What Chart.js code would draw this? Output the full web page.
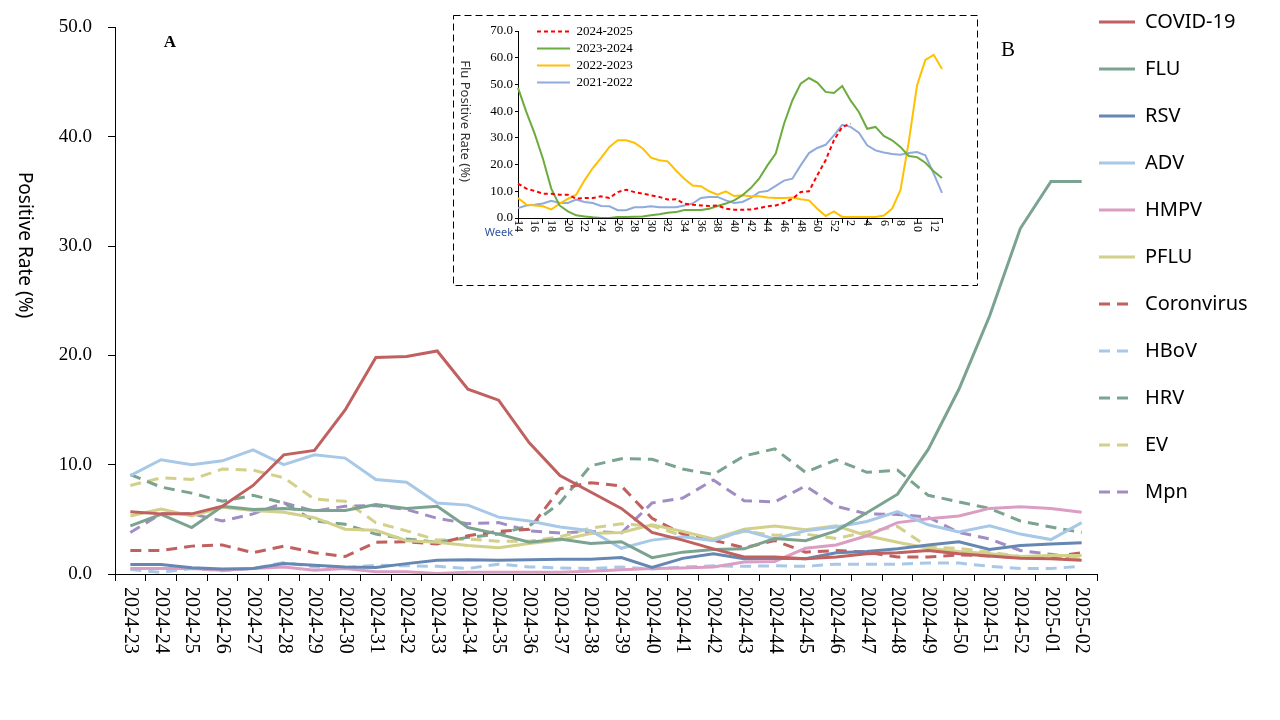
<!DOCTYPE html>
<html>
<head>
<meta charset="utf-8">
<title>Positive rate of respiratory pathogens</title>
<script src="https://cdn.jsdelivr.net/npm/chart.js@4.4.1/dist/chart.umd.min.js"></script>
<style>
  html, body { margin: 0; padding: 0; background: #fff; }
  #wrap { position: relative; width: 1280px; height: 720px; overflow: hidden; }
  #main { position: absolute; left: 0; top: 0; }
  #inset { position: absolute; left: 453px; top: 15px; }
</style>
</head>
<body>
<div id="wrap">
  <canvas id="main" width="1280" height="720"></canvas>
  <canvas id="inset" width="525" height="271"></canvas>
</div>
<script>
/* main chart: weekly positive rate by pathogen */
var weekLabels = ["2024-23", "2024-24", "2024-25", "2024-26", "2024-27", "2024-28", "2024-29", "2024-30",
                  "2024-31", "2024-32", "2024-33", "2024-34", "2024-35", "2024-36", "2024-37", "2024-38",
                  "2024-39", "2024-40", "2024-41", "2024-42", "2024-43", "2024-44", "2024-45", "2024-46",
                  "2024-47", "2024-48", "2024-49", "2024-50", "2024-51", "2024-52", "2025-01", "2025-02"];

var covid19 = [5.7, 5.5, 5.5, 6.2, 8.1, 10.9, 11.3, 15.0, 19.8, 19.9, 20.4, 16.9, 15.9, 12.0, 9.0, 7.5,
               6.0, 3.8, 3.1, 2.3, 1.55, 1.55, 1.4, 1.55, 1.85, 1.95, 2.15, 1.85, 1.65, 1.45, 1.4, 1.25];
var flu = [4.4, 5.45, 4.25, 6.2, 5.9, 6.0, 5.8, 5.8, 6.35, 6.0, 6.2, 4.25, 3.65, 2.9, 3.2, 2.8,
           2.95, 1.5, 2.0, 2.25, 2.3, 3.25, 3.05, 3.95, 5.6, 7.3, 11.4, 16.9, 23.6, 31.6, 35.9, 35.9];
var rsv = [0.87, 0.87, 0.57, 0.45, 0.5, 0.95, 0.8, 0.65, 0.6, 0.95, 1.25, 1.3, 1.25, 1.3, 1.35, 1.35,
           1.5, 0.6, 1.43, 1.85, 1.4, 1.45, 1.4, 1.95, 2.05, 2.3, 2.65, 2.95, 2.25, 2.6, 2.75, 2.85];
var adv = [9.0, 10.45, 10.0, 10.35, 11.35, 10.0, 10.9, 10.6, 8.65, 8.4, 6.5, 6.3, 5.2, 4.85, 4.3, 3.95,
           2.35, 3.1, 3.4, 3.05, 4.0, 3.2, 3.95, 4.3, 4.8, 5.7, 4.5, 3.85, 4.4, 3.65, 3.15, 4.7];
var hmpv = [0.5, 0.5, 0.5, 0.35, 0.5, 0.65, 0.35, 0.5, 0.2, 0.2, 0.05, 0.15, 0.15, 0.15, 0.15, 0.25,
            0.4, 0.5, 0.55, 0.65, 1.1, 1.15, 2.35, 2.65, 3.5, 4.7, 5.05, 5.3, 6.0, 6.15, 6.0, 5.65];
var pflu = [5.3, 5.95, 5.3, 6.1, 5.8, 5.65, 5.15, 4.1, 4.0, 3.05, 2.9, 2.6, 2.4, 2.8, 3.1, 3.7,
            3.8, 4.5, 3.9, 3.2, 4.1, 4.4, 4.05, 4.4, 3.5, 2.9, 2.35, 2.05, 1.85, 1.6, 1.7, 1.7];
var coronavirus = [2.15, 2.15, 2.55, 2.65, 1.95, 2.55, 1.95, 1.6, 2.9, 2.95, 2.75, 3.5, 3.9, 4.1, 7.8, 8.35,
                   8.05, 5.1, 3.65, 3.1, 2.4, 3.05, 2.0, 2.15, 2.0, 1.55, 1.55, 1.75, 1.65, 1.5, 1.55, 1.95];
var hbov = [0.4, 0.15, 0.5, 0.3, 0.5, 1.05, 0.65, 0.6, 0.8, 0.75, 0.7, 0.5, 0.9, 0.65, 0.55, 0.5,
            0.65, 0.45, 0.65, 0.75, 0.7, 0.75, 0.7, 0.9, 0.9, 0.9, 1.0, 1.0, 0.7, 0.5, 0.5, 0.7];
var hrv = [9.1, 7.95, 7.4, 6.65, 7.2, 6.5, 4.85, 4.55, 3.65, 3.2, 2.9, 3.35, 3.65, 4.4, 6.5, 9.9,
           10.55, 10.5, 9.6, 9.1, 10.8, 11.45, 9.3, 10.45, 9.3, 9.5, 7.2, 6.6, 6.0, 4.85, 4.3, 3.8];
var ev = [8.1, 8.8, 8.65, 9.6, 9.5, 8.8, 6.85, 6.65, 4.7, 3.95, 3.1, 3.2, 3.0, 3.0, 3.4, 4.2,
          4.6, 4.4, 3.5, 3.1, 3.9, 3.55, 3.65, 3.25, 3.85, 4.35, 2.45, 2.35, 2.0, 1.6, 1.55, 1.35];
var mpn = [3.8, 5.5, 5.5, 4.85, 5.5, 6.5, 5.75, 6.2, 6.25, 5.9, 5.1, 4.6, 4.7, 3.95, 3.75, 3.9,
           3.75, 6.5, 6.95, 8.6, 6.7, 6.6, 8.05, 6.2, 5.5, 5.45, 5.2, 3.8, 3.2, 2.15, 1.8, 1.45];

/* inset: flu positive rate per season, week 14 to week 13 */
var seasonWeeks = ["14", "15", "16", "17", "18", "19", "20", "21", "22", "23", "24", "25", "26",
                   "27", "28", "29", "30", "31", "32", "33", "34", "35", "36", "37", "38", "39",
                   "40", "41", "42", "43", "44", "45", "46", "47", "48", "49", "50", "51", "52",
                   "1", "2", "3", "4", "5", "6", "7", "8", "9", "10", "11", "12", "13"];
var season2425 = [12.9, 11.0, 10.1, 9.1, 9.1, 8.7, 8.7, 7.2, 7.5, 7.5, 8.1, 7.5, 9.7, 10.6, 9.7, 9.1,
                  8.5, 7.9, 6.9, 7.0, 5.4, 5.0, 4.7, 4.5, 4.7, 3.5, 3.1, 3.1, 3.2, 3.7, 4.4, 4.7,
                  5.7, 7.2, 9.7, 10.0, 16.0, 21.6, 29.1, 34.1, 35.3];
var season2324 = [48.7, 39.7, 31.6, 22.2, 11.0, 4.7, 2.5, 1.0, 0.6, 0.25, 0.0, 0.0, 0.4, 0.4, 0.5, 0.6,
                  1.0, 1.4, 2.0, 2.2, 3.0, 3.0, 3.0, 3.5, 4.5, 5.4, 6.6, 8.5, 11.2, 14.7, 19.7, 24.1,
                  35.3, 44.0, 50.3, 52.4, 50.7, 47.2, 46.8, 49.4, 44.0, 39.7, 33.4, 34.1, 30.7, 29.1, 26.6, 23.2,
                  22.8, 20.7, 17.5, 15.0];
var season2223 = [7.5, 5.0, 4.7, 4.4, 3.2, 5.4, 7.2, 8.7, 14.1, 18.7, 22.5, 26.6, 29.1, 29.1, 28.2, 26.0,
                  22.6, 21.6, 21.2, 17.8, 14.7, 12.2, 11.9, 10.0, 8.7, 10.0, 8.2, 8.5, 8.1, 8.1, 7.7, 7.5,
                  7.5, 7.7, 7.0, 6.6, 3.5, 0.75, 2.5, 0.4, 0.4, 0.4, 0.4, 0.4, 0.9, 3.5, 10.4, 28.5,
                  49.7, 59.2, 61.1, 55.8];
var season2122 = [3.7, 4.7, 5.0, 5.4, 6.4, 5.6, 5.6, 6.9, 6.0, 5.6, 4.5, 4.4, 2.9, 2.9, 4.0, 4.0,
                  4.4, 4.0, 4.0, 4.0, 4.7, 5.4, 7.5, 7.9, 7.9, 6.6, 5.6, 6.0, 7.5, 9.7, 10.1, 12.0,
                  14.0, 14.7, 19.7, 24.3, 26.2, 27.4, 30.9, 34.9, 34.1, 31.9, 27.2, 25.3, 24.5, 24.0, 23.7, 24.3,
                  24.7, 23.5, 16.6, 9.4];

var SERIF = '"Liberation Serif", "Times New Roman", serif';
var SANS = '"Noto Sans", "Open Sans", sans-serif';
var DASH = [11, 7];

function line(label, data, color, dash) {
    return {
        label: label, data: data, borderColor: color, backgroundColor: color,
        borderWidth: 3, borderDash: dash || [], pointRadius: 0, tension: 0, fill: false
    };
}

// legend items with the dataset's own dash and width (point style drops them)
function lineLabels(chart) {
    var items = Chart.defaults.plugins.legend.labels.generateLabels(chart);
    items.forEach(function (it) {
        var ds = chart.data.datasets[it.datasetIndex];
        it.lineDash = ds.borderDash;
        it.lineWidth = ds.borderWidth;
        it.strokeStyle = ds.borderColor;
    });
    return items;
}

// draws text turned 90deg clockwise (reads top to bottom)
function downText(ctx, text, x, y, align) {
    ctx.save();
    ctx.translate(x, y);
    ctx.rotate(Math.PI / 2);
    ctx.textAlign = align;
    ctx.textBaseline = 'middle';
    ctx.fillText(text, 0, 0);
    ctx.restore();
}

// puts the legend box where we want it, and fixes its width
function legendPlacer(width, left, top) {
    return {
        id: 'legendPlacer',
        beforeLayout: function (chart) {
            var lg = chart.legend;
            if (lg && !lg._patched && width) {
                var fit = lg.fit;
                lg.fit = function () { fit.call(this); this.width = width; };
                lg._patched = true;
            }
        },
        afterLayout: function (chart) {
            var lg = chart.legend;
            var w = lg.right - lg.left, h = lg.bottom - lg.top;
            lg.left = left; lg.right = left + w;
            lg.top = top; lg.bottom = top + h;
        }
    };
}

var whiteBg = {
    id: 'whiteBg',
    beforeDraw: function (chart) {
        var ctx = chart.ctx;
        ctx.save();
        ctx.fillStyle = '#fff';
        ctx.fillRect(0, 0, chart.width, chart.height);
        ctx.restore();
    }
};

var mainText = {
    id: 'mainText',
    afterDraw: function (chart) {
        var ctx = chart.ctx, xs = chart.scales.x;
        ctx.save();
        ctx.fillStyle = '#000';
        ctx.font = '20px ' + SERIF;
        weekLabels.forEach(function (lab, i) {
            downText(ctx, lab, xs.getPixelForValue(i), xs.top + 13, 'left');
        });
        ctx.font = '19px ' + SANS;
        downText(ctx, 'Positive Rate (%)', 24, 245, 'center');
        ctx.textAlign = 'center';
        ctx.textBaseline = 'middle';
        ctx.font = 'bold 17px ' + SERIF;
        ctx.fillText('A', 170, 43);
        ctx.font = '21px ' + SERIF;
        ctx.fillText('B', 1008, 50);
        ctx.restore();
    }
};

new Chart(document.getElementById('main'), {
    type: 'line',
    data: {
        labels: weekLabels,
        datasets: [
            line('COVID-19', covid19, '#C0605F'),
            line('FLU', flu, '#7BA38F'),
            line('RSV', rsv, '#6787B3'),
            line('ADV', adv, '#A8C8E8'),
            line('HMPV', hmpv, '#DB9DC4'),
            line('PFLU', pflu, '#D2D08A'),
            line('Coronvirus', coronavirus, '#C0605F', DASH),
            line('HBoV', hbov, '#A8C8E8', DASH),
            line('HRV', hrv, '#7BA38F', DASH),
            line('EV', ev, '#D2D08A', DASH),
            line('Mpn', mpn, '#A18DC3', DASH)
        ]
    },
    options: {
        responsive: false,
        animation: false,
        devicePixelRatio: 1,
        layout: { padding: { top: 16, right: 0, bottom: 0, left: 0 } },
        plugins: {
            legend: {
                position: 'right',
                align: 'start',
                labels: {
                    usePointStyle: true,
                    pointStyle: 'line',
                    pointStyleWidth: 36,
                    padding: 27,
                    color: '#000',
                    font: { family: SANS, size: 20 },
                    generateLabels: lineLabels
                }
            },
            tooltip: { enabled: false }
        },
        scales: {
            x: {
                offset: true,
                grid: { offset: true, drawOnChartArea: false, drawTicks: true, tickLength: 7, color: '#000' },
                border: { display: true, color: '#000', width: 1 },
                ticks: { display: false },
                afterFit: function (scale) { scale.height = 146; }
            },
            y: {
                min: 0,
                max: 50,
                grid: { drawOnChartArea: false, drawTicks: true, tickLength: 7, color: '#000' },
                border: { display: true, color: '#000', width: 1 },
                ticks: {
                    stepSize: 10,
                    padding: 16,
                    color: '#000',
                    font: { family: SERIF, size: 19 },
                    callback: function (v) { return v.toFixed(1); }
                },
                afterFit: function (scale) { scale.width = 115; }
            }
        }
    },
    plugins: [whiteBg, mainText, legendPlacer(183, 1072, -15)]
});

var insetText = {
    id: 'insetText',
    afterDraw: function (chart) {
        var ctx = chart.ctx, xs = chart.scales.x;
        ctx.save();
        ctx.fillStyle = '#000';
        ctx.font = '12px ' + SERIF;
        seasonWeeks.forEach(function (lab, i) {
            if (i % 2 === 0) downText(ctx, lab, xs.getPixelForValue(i), xs.top + 2, 'left');
        });
        ctx.fillStyle = '#2F4F9F';
        ctx.font = '11px ' + SANS;
        ctx.textAlign = 'right';
        ctx.textBaseline = 'middle';
        ctx.fillText('Week', 60, 218);
        ctx.fillStyle = '#333';
        ctx.font = '13px ' + SANS;
        downText(ctx, 'Flu Positive Rate (%)', 12, 106, 'center');
        // dashed frame
        ctx.strokeStyle = '#000';
        ctx.lineWidth = 1;
        ctx.setLineDash([7, 4]);
        ctx.strokeRect(0.5, 0.5, chart.width - 1, chart.height - 1);
        ctx.restore();
    }
};

function seasonLine(label, data, color, dash) {
    return {
        label: label, data: data, borderColor: color, backgroundColor: color,
        borderWidth: 2, borderDash: dash || [], pointRadius: 0, tension: 0, fill: false
    };
}

new Chart(document.getElementById('inset'), {
    type: 'line',
    data: {
        labels: seasonWeeks,
        datasets: [
            seasonLine('2024-2025', season2425, '#FF0000', [4, 3]),
            seasonLine('2023-2024', season2324, '#6CAB3E'),
            seasonLine('2022-2023', season2223, '#FFC000'),
            seasonLine('2021-2022', season2122, '#8FAADC')
        ]
    },
    options: {
        responsive: false,
        animation: false,
        devicePixelRatio: 1,
        layout: { padding: { top: 16, right: 36, bottom: 0, left: 0 } },
        plugins: {
            legend: {
                position: 'chartArea',
                align: 'start',
                labels: {
                    usePointStyle: true,
                    pointStyle: 'line',
                    pointStyleWidth: 33,
                    padding: 4,
                    color: '#000',
                    font: { family: SERIF, size: 13 },
                    generateLabels: lineLabels
                }
            },
            tooltip: { enabled: false }
        },
        scales: {
            x: {
                grid: {
                    drawOnChartArea: false, drawTicks: true, tickLength: 5,
                    color: function (c) { return c.index % 3 === 0 ? '#000' : 'rgba(0,0,0,0)'; }
                },
                border: { display: true, color: '#000', width: 1 },
                ticks: { display: false },
                afterFit: function (scale) { scale.height = 68; }
            },
            y: {
                min: 0,
                max: 70,
                grid: { drawOnChartArea: false, drawTicks: true, tickLength: 3, color: '#000' },
                border: { display: true, color: '#000', width: 1 },
                ticks: {
                    stepSize: 10,
                    padding: 2,
                    color: '#000',
                    font: { family: SERIF, size: 13 },
                    callback: function (v) { return v.toFixed(1); }
                },
                afterFit: function (scale) { scale.width = 65; }
            }
        }
    },
    plugins: [whiteBg, insetText, legendPlacer(0, 80, 6)]
});
</script>
</body>
</html>
